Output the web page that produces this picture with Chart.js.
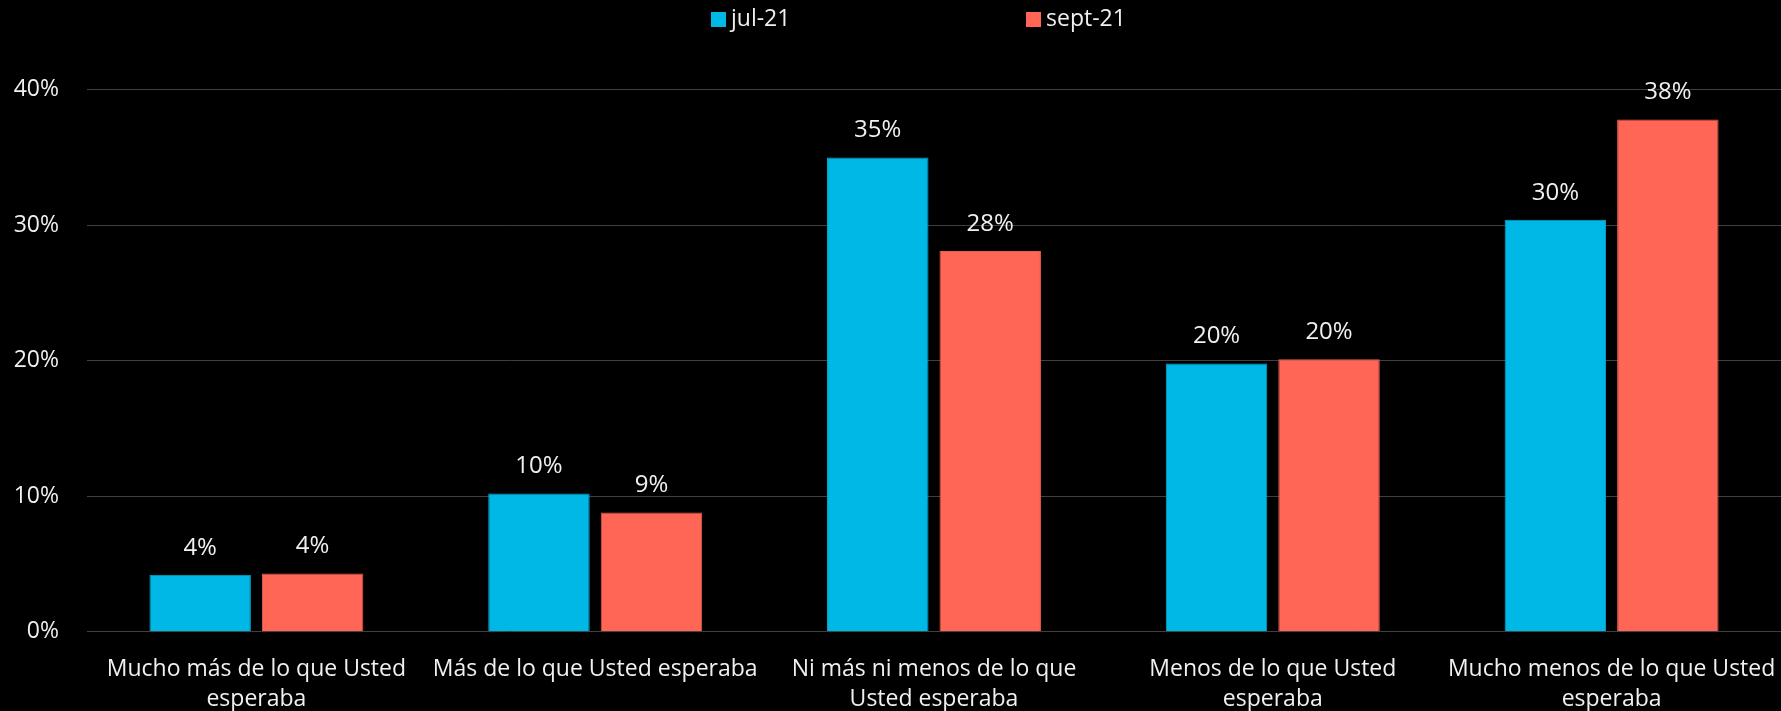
<!DOCTYPE html>
<html>
<head>
<meta charset="utf-8">
<script src="https://cdn.jsdelivr.net/npm/chart.js@4/dist/chart.umd.min.js"></script>
<style>
  html, body { margin: 0; padding: 0; background: #000; }
  #wrap { width: 1781px; height: 711px; }
</style>
</head>
<body>
<div id="wrap"><canvas id="c" width="1781" height="711"></canvas></div>
<script>
const categories = [
  ["Mucho más de lo que Usted", "esperaba"],
  "Más de lo que Usted esperaba",
  ["Ni más ni menos de lo que", "Usted esperaba"],
  ["Menos de lo que Usted", "esperaba"],
  ["Mucho menos de lo que Usted", "esperaba"]
];
const seriesNames = ["jul-21", "sept-21"];
const jul21 = [4.2, 10.2, 35.0, 19.8, 30.4];
const sept21 = [4.3, 8.8, 28.1, 20.1, 37.8];
const yTicks = [0, 10, 20, 30, 40];

const colors = ["#00B8E6", "#FF6655"];
const textColor = "#F0F0F0";
const fontFamily = "'Open Sans', 'DejaVu Sans', sans-serif";

const dataLabels = {
  id: 'dataLabels',
  afterDatasetsDraw(chart) {
    const ctx = chart.ctx;
    ctx.save();
    ctx.fillStyle = textColor;
    ctx.font = "24px " + fontFamily;
    ctx.textAlign = 'center';
    ctx.textBaseline = 'middle';
    chart.data.datasets.forEach((ds, i) => {
      const meta = chart.getDatasetMeta(i);
      meta.data.forEach((bar, j) => {
        ctx.fillText(Math.round(ds.data[j]) + '%', bar.x, bar.y - 27);
      });
    });
    ctx.restore();
  }
};

const customLegend = {
  id: 'customLegend',
  afterDraw(chart) {
    const ctx = chart.ctx;
    ctx.save();
    ctx.font = "23px " + fontFamily;
    ctx.textBaseline = 'middle';
    ctx.textAlign = 'left';
    const y = 19.5;
    const starts = [711, 1026];
    chart.data.datasets.forEach((ds, i) => {
      const x = starts[i];
      ctx.fillStyle = ds.backgroundColor;
      ctx.fillRect(x, y - 7.5, 15, 15);
      ctx.fillStyle = textColor;
      ctx.fillText(ds.label, x + 20, y);
    });
    ctx.restore();
  }
};

new Chart(document.getElementById('c'), {
  type: 'bar',
  data: {
    labels: categories,
    datasets: [
      { label: seriesNames[0], data: jul21, backgroundColor: colors[0], borderColor: "#0AA6CF", borderWidth: 1 },
      { label: seriesNames[1], data: sept21, backgroundColor: colors[1], borderColor: "#E85C4D", borderWidth: 1 }
    ]
  },
  options: {
    responsive: false,
    animation: false,
    devicePixelRatio: 1,
    layout: { padding: { top: 89.7, right: 0, left: 0, bottom: 0 } },
    datasets: { bar: { categoryPercentage: 0.664, barPercentage: 0.902 } },
    plugins: {
      legend: { display: false },
      tooltip: { enabled: false }
    },
    scales: {
      x: {
        grid: { display: false },
        border: { display: false },
        ticks: {
          color: textColor,
          font: { family: fontFamily, size: 23, lineHeight: 1.33 },
          padding: 14,
          maxRotation: 0,
          autoSkip: false
        },
        afterFit(scale) {
          scale.height = 79.3;
          scale.paddingLeft = 0;
          scale.paddingRight = 0;
        }
      },
      y: {
        min: 0,
        max: 40,
        afterBuildTicks(scale) { scale.ticks = yTicks.map(v => ({ value: v })); },
        grid: { color: "#404040", lineWidth: 1, drawTicks: false },
        border: { display: false },
        ticks: {
          color: textColor,
          font: { family: fontFamily, size: 23 },
          padding: 28,
          callback: v => v + '%'
        },
        afterFit(scale) { scale.width = 87; }
      }
    }
  },
  plugins: [dataLabels, customLegend]
});
</script>
</body>
</html>
